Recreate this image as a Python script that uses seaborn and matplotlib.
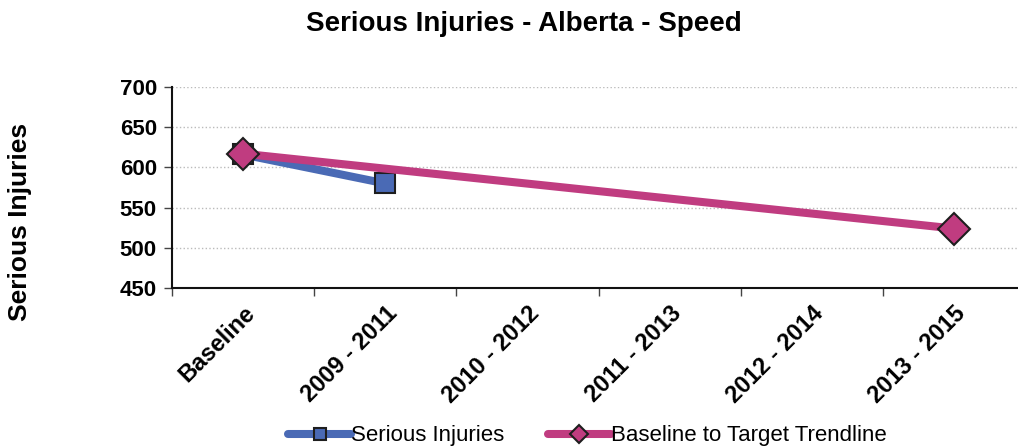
import pandas as pd
import numpy as np
import matplotlib
matplotlib.use('Agg')
import matplotlib.pyplot as plt
import seaborn as sns

# Categories and values
periods = ['Baseline', '2009 - 2011', '2010 - 2012', '2011 - 2013', '2012 - 2014', '2013 - 2015']
injury_periods = ['Baseline', '2009 - 2011']
injury_values = [616, 580]
trend_periods = ['Baseline', '2013 - 2015']
trend_values = [617, 524]

pos = {p: i for i, p in enumerate(periods)}
df_inj = pd.DataFrame({'x': [pos[p] for p in injury_periods], 'y': injury_values})
df_trend = pd.DataFrame({'x': [pos[p] for p in trend_periods], 'y': trend_values})

sns.set_style('white')
plt.rcParams['font.family'] = ['Liberation Sans', 'DejaVu Sans']
plt.rcParams['text.color'] = 'black'
plt.rcParams['xtick.color'] = 'black'
plt.rcParams['ytick.color'] = 'black'
plt.rcParams['axes.labelcolor'] = 'black'

fig = plt.figure(figsize=(10.18, 4.48), dpi=100)
ax = fig.add_axes([0.169, 0.357, 0.831, 0.449])

sns.lineplot(x='x', y='y', data=df_inj, ax=ax, color='#4a6ab5', lw=5.8,
             marker='s', markersize=15, markerfacecolor='#4a6ab5',
             markeredgecolor='#1e1e1e', markeredgewidth=1.5, label='Serious Injuries')
sns.lineplot(x='x', y='y', data=df_trend, ax=ax, color='#c03c80', lw=5.8,
             marker='D', markersize=16, markerfacecolor='#c03c80',
             markeredgecolor='#1e1e1e', markeredgewidth=1.5,
             label='Baseline to Target Trendline')

ax.set_xlim(-0.5, 5.45)
ax.set_ylim(450, 700)
ax.set_yticks(np.arange(450, 701, 50))
ax.set_xticks(range(len(periods)))
ax.set_xticklabels(periods, rotation=45, ha='right', rotation_mode='anchor',
                   fontsize=17, fontweight='bold')
ax.set_xticks(np.arange(-0.5, 5.5, 1), minor=True)
ax.tick_params(axis='x', which='major', bottom=True, length=0, pad=10)
ax.tick_params(axis='x', which='minor', bottom=True, length=6, width=1,
               color='#444444', direction='out')
ax.tick_params(axis='y', left=True, length=6, width=1, color='#444444',
               direction='out', labelsize=16, pad=5)
for t in ax.get_yticklabels():
    t.set_fontweight('bold')

ax.grid(axis='y', ls=':', color='#bbbbbb', lw=1)
for s in ['top', 'right']:
    ax.spines[s].set_visible(False)
for s in ['left', 'bottom']:
    ax.spines[s].set_color('#111111')
    ax.spines[s].set_linewidth(1.5)

ax.set_xlabel('')
ax.set_ylabel('')
fig.text(0.02, 0.505, 'Serious Injuries', rotation=90, ha='center', va='center',
         fontsize=19, fontweight='bold')
fig.suptitle('Serious Injuries - Alberta - Speed', fontsize=20, fontweight='bold',
             x=0.515, y=0.975)

handles, labels = ax.get_legend_handles_labels()
ax.legend_.remove()
fig.legend(handles, labels, loc='center', bbox_to_anchor=(0.577, 0.027), ncol=2,
           frameon=False, fontsize=16, handlelength=2.8, handletextpad=0.0,
           columnspacing=2.0, markerscale=0.55, borderpad=0)

plt.savefig('out.png', dpi=100)
